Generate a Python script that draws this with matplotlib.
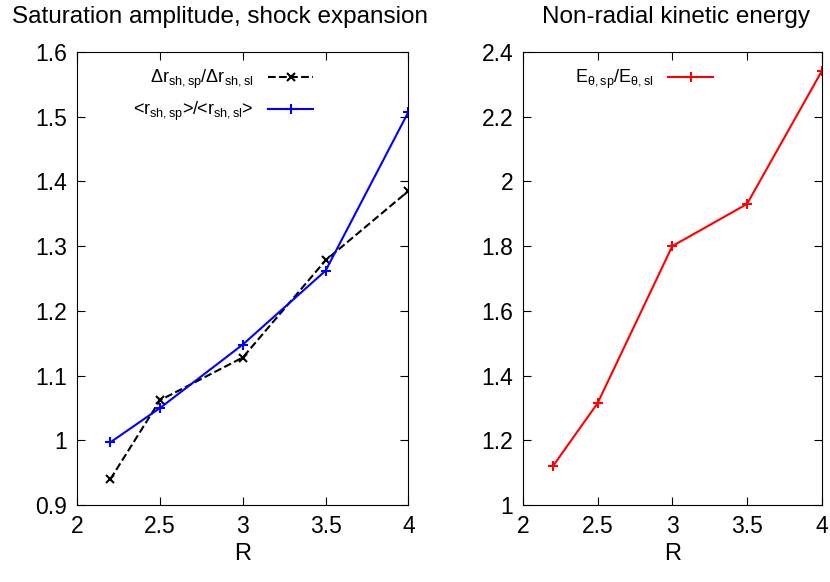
import matplotlib
matplotlib.use("Agg")
import matplotlib.pyplot as plt

plt.rcParams["font.family"] = "Liberation Sans"
plt.rcParams["mathtext.fontset"] = "custom"
plt.rcParams["mathtext.rm"] = "Liberation Sans"
plt.rcParams["mathtext.it"] = "Liberation Sans"

R = [2.2, 2.5, 3.0, 3.5, 4.0]
delta_ratio = [0.94, 1.062, 1.128, 1.278, 1.385]
mean_ratio = [0.997, 1.05, 1.148, 1.262, 1.507]
etheta_ratio = [1.12, 1.315, 1.80, 1.93, 2.34]

fig = plt.figure(figsize=(8.3, 5.82), dpi=100)
ax1 = fig.add_axes([0.093, 0.132, 0.399, 0.779])
ax2 = fig.add_axes([0.630, 0.132, 0.360, 0.779])

ax1.plot(R, delta_ratio, "k--", marker="x", ms=6, mew=1.5, lw=1.5,
         label=r"$\Delta\mathrm{r_{sh,sp}}/\Delta\mathrm{r_{sh,sl}}$")
ax1.plot(R, mean_ratio, color="#0000ff", marker="+", ms=7, mew=1.5, lw=1.5,
         label=r"<$\mathrm{r_{sh,sp}}$>/<$\mathrm{r_{sh,sl}}$>")
ax1.set_ylim(0.9, 1.6)

ax2.plot(R, etheta_ratio, color="#ff0000", marker="+", ms=7, mew=1.5, lw=1.5,
         label=r"$\mathrm{E_{\theta,sp}/E_{\theta,sl}}$")
ax2.set_ylim(1.0, 2.4)

fig.text(220 / 830, 1 - 17 / 582, "Saturation amplitude, shock expansion",
         fontsize=17.5, ha="center", va="center")
fig.text(676 / 830, 1 - 17 / 582, "Non-radial kinetic energy",
         fontsize=17.5, ha="center", va="center")

for ax in (ax1, ax2):
    ax.set_xlim(2, 4)
    ax.set_xticks([2, 2.5, 3, 3.5, 4])
    ax.set_xticklabels(["2", "2.5", "3", "3.5", "4"])
    ax.set_xlabel("R", fontsize=17, labelpad=4)
    ax.tick_params(direction="in", top=True, right=True, labelsize=16.5,
                   length=6, pad=7)
    ax.legend(loc="upper left", markerfirst=False, frameon=False, fontsize=13,
              handlelength=2.5, bbox_to_anchor=(0.12, 1.0))

yt1 = [0.9, 1.0, 1.1, 1.2, 1.3, 1.4, 1.5, 1.6]
ax1.set_yticks(yt1)
ax1.set_yticklabels(["0.9", "1", "1.1", "1.2", "1.3", "1.4", "1.5", "1.6"])
yt2 = [1.0, 1.2, 1.4, 1.6, 1.8, 2.0, 2.2, 2.4]
ax2.set_yticks(yt2)
ax2.set_yticklabels(["1", "1.2", "1.4", "1.6", "1.8", "2", "2.2", "2.4"])

fig.savefig("out.png", dpi=100)
